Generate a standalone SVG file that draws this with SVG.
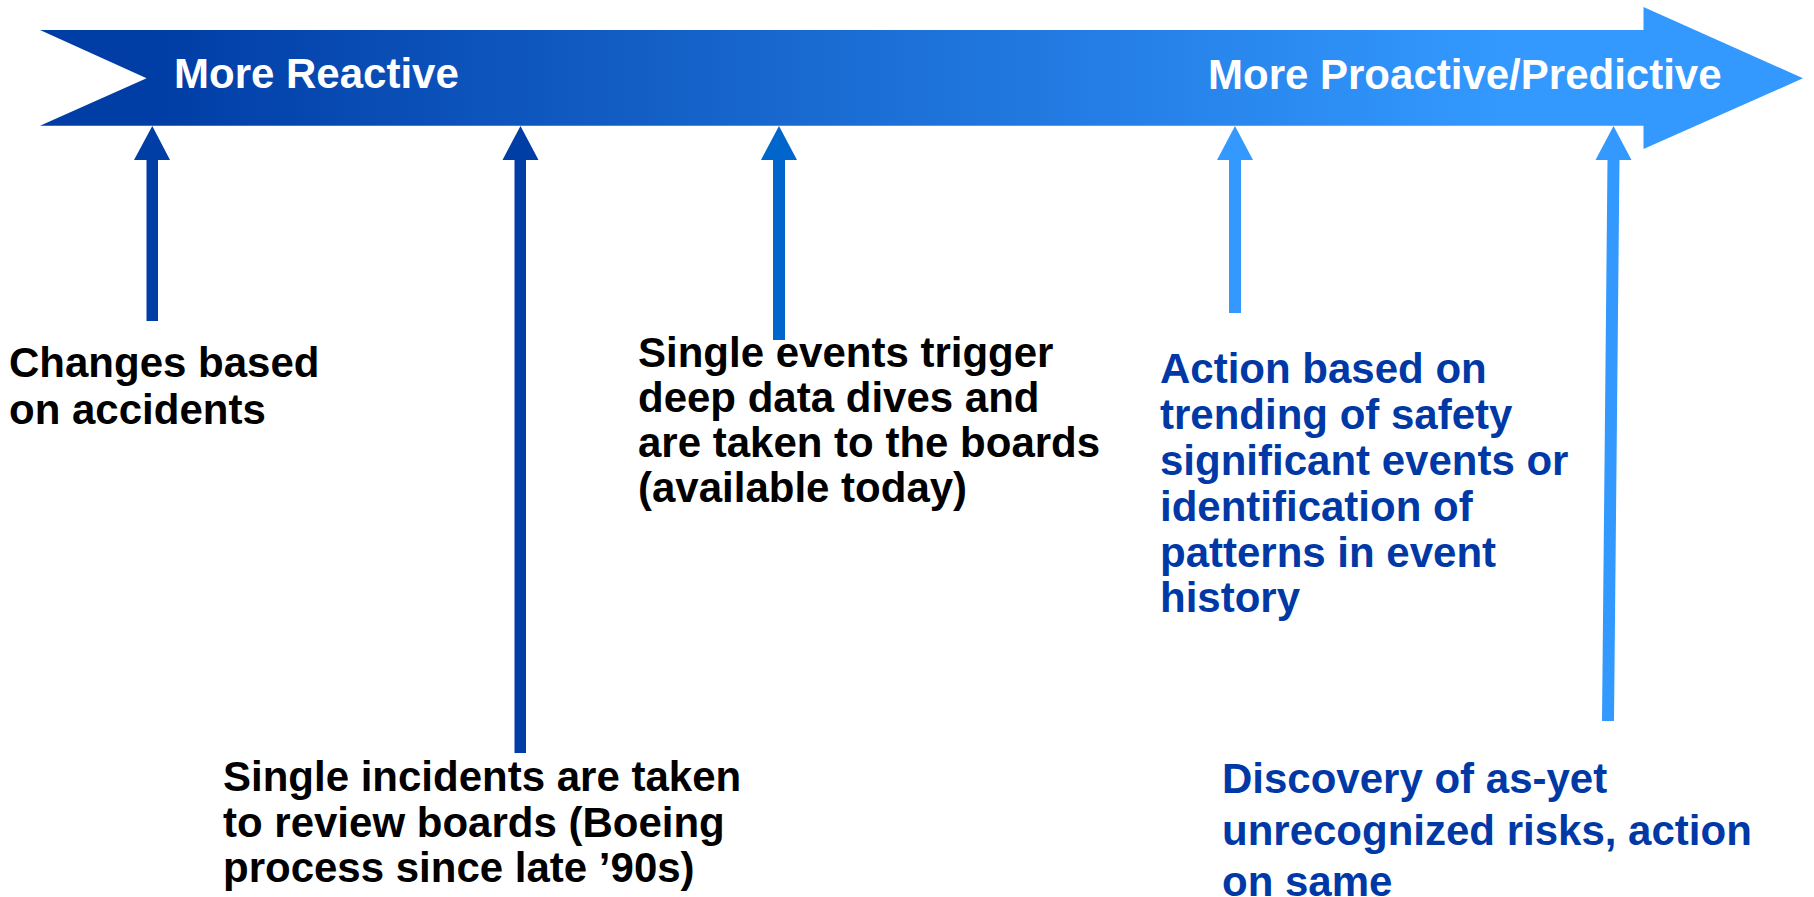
<svg xmlns="http://www.w3.org/2000/svg" width="1814" height="897" viewBox="0 0 1814 897">
<style>
text{font-family:"Liberation Sans",Arial,sans-serif;font-weight:bold;font-size:42px}
.w{fill:#ffffff}
.k{fill:#000000}
.b{fill:#0039A6}
.dark{fill:#003DA5}
.mid{fill:#0066CC}
.light{fill:#3399FF}
</style>
<defs>
<linearGradient id="g" gradientUnits="userSpaceOnUse" x1="150" y1="0" x2="1500" y2="0">
<stop offset="0" stop-color="#003DA5"/>
<stop offset="1" stop-color="#3399FF"/>
</linearGradient>
</defs>
<rect width="1814" height="897" fill="#ffffff"/>
<g id="timeline">
<path d="M40,30 L1643.5,30 L1643.5,7 L1803,78.3 L1643.5,149 L1643.5,125.7 L40,125.7 L146.6,78.3 Z" fill="url(#g)"/>
<text class="w" x="174" y="88">More Reactive</text>
<text class="w" x="1208" y="89">More Proactive/Predictive</text>
</g>
<g id="connectors">
<path class="dark" d="M152.3,126 L170,160 L158,160 L158,321 L146.5,321 L146.5,160 L134,160 Z"/>
<path class="dark" d="M520.5,126 L538.5,160 L526,160 L526,753 L514.5,753 L514.5,160 L502.5,160 Z"/>
<path class="mid" d="M779,126 L797,160 L785,160 L785,340 L773,340 L773,160 L761,160 Z"/>
<path class="light" d="M1235,126 L1253,160 L1241,160 L1241,313 L1229,313 L1229,160 L1217,160 Z"/>
<path class="light" d="M1613.5,126 L1631.5,160 L1619.5,160 L1614,721 L1602,721 L1607.5,160 L1595.5,160 Z"/>
</g>
<g id="node-accidents">
<text class="k" x="9" y="377">Changes based</text>
<text class="k" x="9" y="424">on accidents</text>
</g>
<g id="node-incidents">
<text class="k" x="223" y="791">Single incidents are taken</text>
<text class="k" x="223" y="837">to review boards (Boeing</text>
<text class="k" x="223" y="882">process since late ’90s)</text>
</g>
<g id="node-events">
<text class="k" x="638" y="367">Single events trigger</text>
<text class="k" x="638" y="412">deep data dives and</text>
<text class="k" x="638" y="457">are taken to the boards</text>
<text class="k" x="638" y="502">(available today)</text>
</g>
<g id="node-trending">
<text class="b" x="1160" y="383">Action based on</text>
<text class="b" x="1160" y="429">trending of safety</text>
<text class="b" x="1160" y="475">significant events or</text>
<text class="b" x="1160" y="521">identification of</text>
<text class="b" x="1160" y="567">patterns in event</text>
<text class="b" x="1160" y="612">history</text>
</g>
<g id="node-discovery">
<text class="b" x="1222" y="793">Discovery of as-yet</text>
<text class="b" x="1222" y="845">unrecognized risks, action</text>
<text class="b" x="1222" y="896">on same</text>
</g>
</svg>
